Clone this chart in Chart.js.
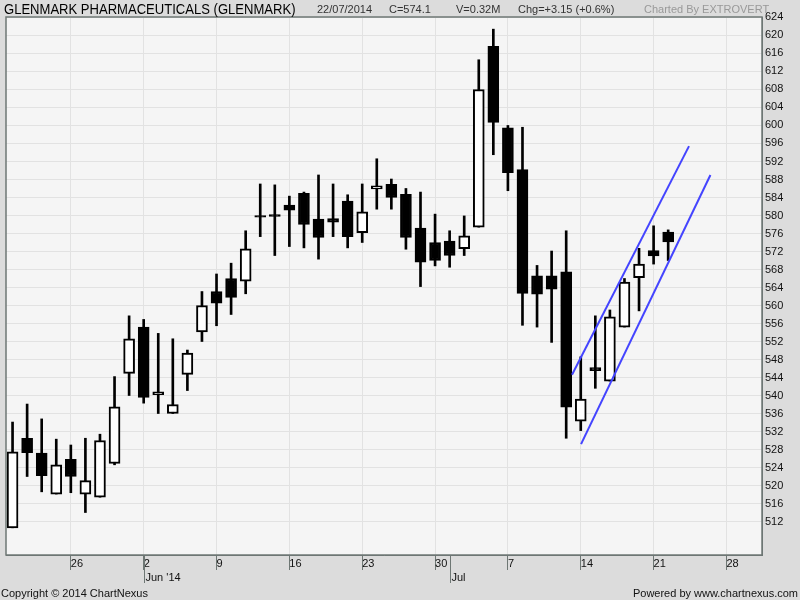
<!DOCTYPE html>
<html>
<head>
<meta charset="utf-8">
<script src="https://cdn.jsdelivr.net/npm/chart.js@4"></script>
<style>
  html, body { margin: 0; padding: 0; background: #dcdcdc; }
  #wrap { position: relative; width: 800px; height: 600px; font-family: "Liberation Sans", Arial, sans-serif; }
  canvas { position: absolute; left: 0; top: 0; }
  .t { position: absolute; white-space: nowrap; font-size: 11px; line-height: 1; color: #333; }
</style>
</head>
<body>
<div id="wrap">
  <canvas id="chart" width="800" height="600"></canvas>
  <div class="t" style="left:4px;top:1px;font-size:15px;color:#000;transform:scaleX(0.87);transform-origin:left top;">GLENMARK PHARMACEUTICALS (GLENMARK)</div>
  <div class="t" style="left:317px;top:4px;">22/07/2014</div>
  <div class="t" style="left:389px;top:4px;">C=574.1</div>
  <div class="t" style="left:456px;top:4px;">V=0.32M</div>
  <div class="t" style="left:518px;top:4px;">Chg=+3.15 (+0.6%)</div>
  <div class="t" style="left:644px;top:4px;color:#999;">Charted By EXTROVERT</div>
  <div class="t" style="left:1px;top:588px;color:#111;">Copyright © 2014 ChartNexus</div>
  <div class="t" style="right:2px;top:588px;color:#111;">Powered by www.chartnexus.com</div>
</div>
<script>
// trading days, 20 May 2014 .. 22 Jul 2014
const days = ['20/05','21/05','22/05','23/05','26/05','27/05','28/05','29/05','30/05',
  '02/06','03/06','04/06','05/06','06/06','09/06','10/06','11/06','12/06','13/06',
  '16/06','17/06','18/06','19/06','20/06','23/06','24/06','25/06','26/06','27/06',
  '30/06','01/07','02/07','03/07','04/07','07/07','08/07','09/07','10/07','11/07',
  '14/07','15/07','16/07','17/07','18/07','21/07','22/07'];

const opens  = [510.6, 530.5, 527.2, 518.1, 525.8, 518.1, 517.4, 524.9, 544.9,
  555.2, 540.2, 536.0, 544.7, 554.1, 563.1, 566.0, 565.4, 580.0, 580.2,
  582.3, 584.9, 579.2, 579.3, 583.2, 576.2, 585.9, 586.9, 584.7, 577.2,
  574.0, 574.3, 572.6, 577.4, 617.6, 599.5, 590.2, 566.6, 566.6, 567.5,
  534.3, 546.2, 543.2, 555.2, 566.2, 572.2, 576.3];
const highs  = [534.1, 538.1, 534.8, 530.3, 529.0, 530.5, 531.4, 544.2, 557.7,
  556.9, 553.8, 552.6, 550.1, 563.1, 567.0, 569.4, 576.6, 587.0, 586.8,
  584.3, 585.2, 589.0, 587.0, 584.6, 587.0, 592.6, 588.1, 586.0, 585.2,
  580.3, 576.6, 579.9, 614.6, 621.4, 600.0, 599.6, 568.9, 572.1, 576.6,
  548.6, 557.7, 559.0, 566.0, 572.7, 577.7, 576.8];
const lows   = [510.6, 522.0, 518.6, 518.1, 518.4, 514.0, 517.4, 524.6, 540.0,
  538.3, 536.0, 536.0, 541.1, 552.0, 555.5, 558.0, 562.6, 575.3, 571.1,
  573.1, 572.8, 570.3, 575.3, 572.8, 574.0, 581.4, 581.4, 572.5, 564.2,
  568.8, 568.5, 571.1, 577.4, 593.5, 585.5, 555.6, 555.2, 551.8, 530.5,
  532.2, 541.6, 543.2, 555.2, 558.8, 569.2, 570.0];
const closes = [527.5, 527.3, 522.2, 524.6, 522.0, 521.1, 530.0, 537.5, 552.6,
  539.6, 540.8, 538.0, 549.4, 560.0, 560.5, 561.8, 572.6, 579.6, 579.8,
  581.2, 578.0, 575.1, 578.5, 575.3, 580.8, 586.6, 584.0, 575.1, 569.6,
  570.0, 571.1, 575.5, 608.0, 600.7, 589.5, 562.7, 562.5, 563.6, 537.4,
  539.2, 545.5, 557.5, 565.2, 569.2, 571.0, 574.1];

// hand drawn trend channel (day index, price)
const upperLineX = [38.4, 46.43];
const upperLineY = [544.6, 595.4];
const lowerLineX = [39.02, 47.9];
const lowerLineY = [529.2, 589.0];

const yTicks = [512, 516, 520, 524, 528, 532, 536, 540, 544, 548, 552, 556, 560, 564,
  568, 572, 576, 580, 584, 588, 592, 596, 600, 604, 608, 612, 616, 620, 624];
const mondayIdx = [4, 9, 14, 19, 24, 29, 34, 39, 44, 49];
const mondayLabels = ['26', '2', '9', '16', '23', '30', '7', '14', '21', '28'];
const monthIdx = [9, 30];
const monthLabels = ["Jun '14", 'Jul'];

const axisColor = '#6e7774';
const gridColor = '#e2e2e2';
const labelFont = { family: 'Liberation Sans', size: 11 };

// plot background, frame and month markers
const framePlugin = {
    id: 'frame',
    beforeDraw(chart) {
        const { ctx, chartArea: a } = chart;
        ctx.save();
        ctx.fillStyle = '#dcdcdc';
        ctx.fillRect(0, 0, chart.width, chart.height);
        ctx.fillStyle = '#f5f5f5';
        ctx.fillRect(a.left, a.top, a.right - a.left, a.bottom - a.top);
        ctx.restore();
    },
    afterDraw(chart) {
        const { ctx, chartArea: a } = chart;
        const xs = chart.scales.x;
        ctx.save();
        ctx.strokeStyle = axisColor;
        ctx.lineWidth = 1.5;
        ctx.strokeRect(a.left, a.top, a.right - a.left, a.bottom - a.top);
        ctx.lineWidth = 1;
        ctx.fillStyle = '#111';
        ctx.font = '11px "Liberation Sans"';
        ctx.textBaseline = 'middle';
        monthIdx.forEach((v, i) => {
            const px = Math.round(xs.getPixelForValue(v)) + 0.5;
            ctx.beginPath();
            ctx.moveTo(px, a.bottom);
            ctx.lineTo(px, a.bottom + 28);
            ctx.stroke();
            ctx.fillText(monthLabels[i], px + 1, a.bottom + 23);
        });
        ctx.restore();
    }
};

const idx = days.map((d, i) => i);
const ctx = document.getElementById('chart').getContext('2d');

new Chart(ctx, {
    type: 'bar',
    data: {
        datasets: [
            {
                type: 'line',
                data: upperLineX.map((x, i) => ({ x: x, y: upperLineY[i] })),
                borderColor: '#4444ff',
                borderWidth: 2,
                pointRadius: 0,
                order: 0
            },
            {
                type: 'line',
                data: lowerLineX.map((x, i) => ({ x: x, y: lowerLineY[i] })),
                borderColor: '#4444ff',
                borderWidth: 2,
                pointRadius: 0,
                order: 0
            },
            {
                // candle bodies
                data: idx.map(i => ({ x: i, y: [opens[i], closes[i]] })),
                backgroundColor: c => closes[c.dataIndex] >= opens[c.dataIndex] ? '#ffffff' : '#000000',
                borderColor: '#000000',
                borderWidth: 2,
                borderSkipped: false,
                barThickness: 11,
                grouped: false,
                order: 1
            },
            {
                // wicks
                data: idx.map(i => ({ x: i, y: [lows[i], highs[i]] })),
                backgroundColor: '#000000',
                barThickness: 2,
                grouped: false,
                order: 2
            }
        ]
    },
    options: {
        responsive: false,
        animation: false,
        layout: { padding: { left: 6, top: 17, right: 0, bottom: 0 } },
        plugins: {
            legend: { display: false },
            tooltip: { enabled: false }
        },
        scales: {
            x: {
                type: 'linear',
                position: 'bottom',
                offset: false,
                min: -0.45,
                max: 51.44,
                afterBuildTicks: s => { s.ticks = mondayIdx.map(v => ({ value: v })); },
                afterFit: s => { s.height = 45; },
                grid: { offset: false, color: gridColor, tickColor: axisColor, tickLength: 15 },
                border: { color: axisColor },
                ticks: {
                    autoSkip: false,
                    maxRotation: 0,
                    align: 'start',
                    padding: -13,
                    color: '#111',
                    font: labelFont,
                    callback: (v, i) => mondayLabels[i]
                }
            },
            y: {
                type: 'linear',
                position: 'right',
                min: 504.56,
                max: 624.1,
                afterBuildTicks: s => { s.ticks = yTicks.map(v => ({ value: v })); },
                afterFit: s => { s.width = 38; },
                grid: { color: gridColor, drawTicks: false },
                border: { color: axisColor },
                ticks: { padding: 3, color: '#111', font: labelFont }
            }
        }
    },
    plugins: [framePlugin]
});
</script>
</body>
</html>
